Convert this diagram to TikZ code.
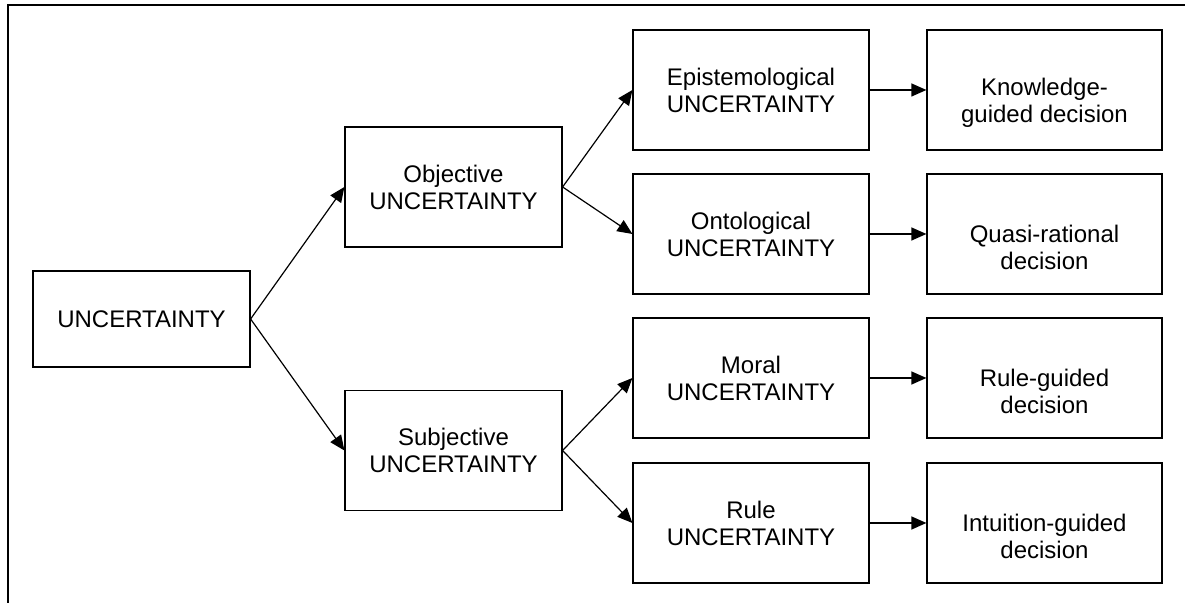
\documentclass[tikz,border=0pt]{standalone}
\usepackage{fontspec}
\setmainfont{Liberation Sans}
\usetikzlibrary{arrows.meta}
\newcommand{\lowstrut}{\rule{0pt}{21.8pt}}
\tikzset{
  box/.style={draw,line width=0.6pt,align=center,inner sep=0pt,
    font=\fontsize{12}{13.5}\selectfont},
  midbox/.style={box,minimum width=118pt,minimum height=60pt},
  leftbox/.style={box,minimum width=108.5pt,minimum height=60pt},
  decbox/.style={midbox,minimum width=117.5pt},
  arr/.style={-{Triangle[length=7.5pt,width=6.5pt]},line width=0.6pt}
}
\begin{document}
\begin{tikzpicture}[x=0.5pt,y=-0.5pt]
      \useasboundingbox (0,0) rectangle (1185,603);
      \draw[line width=1pt] (8,603) -- (8,5) -- (1185,5);
      \path
        (141.5,319) node[leftbox,minimum height=48pt] (unc){UNCERTAINTY}
        (453.5,187) node[leftbox] (obj){Objective\\UNCERTAINTY}
        (453.5,450.5) node[leftbox] (subj){Subjective\\UNCERTAINTY}
        (751,90) node[midbox] (epi){Epistemological\\UNCERTAINTY}
        (751,234) node[midbox] (onto){Ontological\\UNCERTAINTY}
        (751,378) node[midbox] (moral){Moral\\UNCERTAINTY}
        (751,523) node[midbox] (rule){Rule\\UNCERTAINTY}
        (1044.5,90) node[decbox] (know){\lowstrut Knowledge-\\guided decision}
        (1044.5,234) node[decbox] (quasi){\lowstrut Quasi-rational\\decision}
        (1044.5,378) node[decbox] (ruledec){\lowstrut Rule-guided\\decision}
        (1044.5,523) node[decbox] (intu){\lowstrut Intuition-guided\\decision};
      \begin{scope}[arr]
        \draw (unc.east) to (obj.west);
        \draw (unc.east) to (subj.west);
        \draw (obj.east) to (epi.west);
        \draw (obj.east) to (onto.west);
        \draw (subj.east) to (moral.west);
        \draw (subj.east) to (rule.west);
        \draw (epi) to (know);
        \draw (onto) to (quasi);
        \draw (moral) to (ruledec);
        \draw (rule) to (intu);
      \end{scope}
    \end{tikzpicture}
\end{document}
